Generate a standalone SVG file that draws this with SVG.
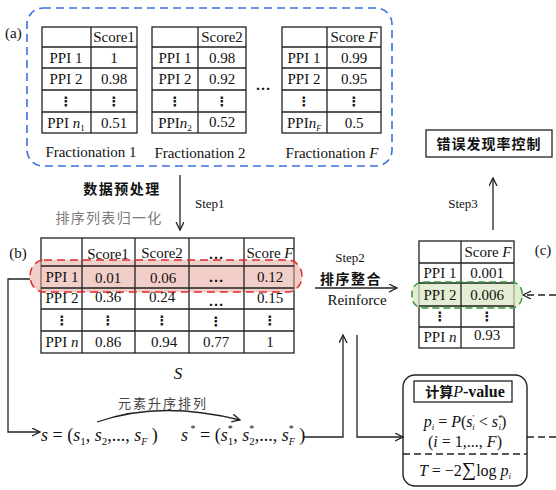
<svg xmlns="http://www.w3.org/2000/svg" width="556" height="490" viewBox="0 0 556 490">
<style>
.t{font-family:"Liberation Serif",serif;font-size:15px;text-anchor:middle;fill:#111}
.i{font-style:italic}
.g{stroke:#222;stroke-width:1.3;fill:none}
.cell{fill:#fff;stroke:#222;stroke-width:1.3}
.d{font-family:"DejaVu Sans",sans-serif;font-weight:bold;font-size:13px;text-anchor:middle;fill:#111}
.cn{font-family:"Noto Sans CJK SC",sans-serif;font-weight:bold;font-size:14px;fill:#111}
.c{stroke:#222;stroke-width:1.3;fill:none}
.s{font-family:"Liberation Serif",serif;font-size:13px;fill:#111}
</style>
<defs>
<marker id="ah" markerWidth="10" markerHeight="10" refX="8" refY="4" orient="auto" markerUnits="userSpaceOnUse">
<path d="M0,0 L8,4 L0,8" fill="none" stroke="#222" stroke-width="1.3"/>
</marker>
</defs>

<g id="group-a">
<rect x="27" y="8" width="365" height="158" rx="16" fill="none" stroke="#3a6fe0" stroke-width="1.6" stroke-dasharray="8,5"/>
<text class="t" x="5" y="38" style="text-anchor:start">(a)</text>
<text class="t" x="263" y="90" style="font-weight:bold">…</text>
</g>

<g id="table-1">
<rect class="cell" x="42" y="27" width="95" height="106"/>
<path class="g" d="M91,27V133M42,47H137M42,68H137M42,90H137M42,112H137"/>
<text class="t" x="114" y="42">Score1</text>
<text class="t" x="66" y="63">PPI 1</text><text class="t" x="114" y="63">1</text>
<text class="t" x="66" y="84">PPI 2</text><text class="t" x="114" y="84">0.98</text>
<text class="d" x="66" y="106">⋮</text><text class="d" x="114" y="106">⋮</text>
<text class="t" x="66" y="128">PPI <tspan class="i">n</tspan><tspan font-size="9" dy="3">1</tspan></text><text class="t" x="114" y="128">0.51</text>
<text class="t" x="91" y="157">Fractionation 1</text>
</g>

<g id="table-2">
<rect class="cell" x="152" y="27" width="94" height="106"/>
<path class="g" d="M198,27V133M152,47H246M152,68H246M152,90H246M152,112H246"/>
<text class="t" x="222" y="42">Score2</text>
<text class="t" x="175" y="63">PPI 1</text><text class="t" x="222" y="63">0.98</text>
<text class="t" x="175" y="84">PPI 2</text><text class="t" x="222" y="84">0.92</text>
<text class="d" x="175" y="106">⋮</text><text class="d" x="222" y="106">⋮</text>
<text class="t" x="175" y="128">PPI<tspan class="i">n</tspan><tspan font-size="9" dy="3">2</tspan></text><text class="t" x="222" y="127">0.52</text>
<text class="t" x="200" y="158">Fractionation 2</text>
</g>

<g id="table-3">
<rect class="cell" x="282" y="27" width="99" height="106"/>
<path class="g" d="M327,27V133M282,47H381M282,68H381M282,90H381M282,112H381"/>
<text class="t" x="354" y="42">Score <tspan class="i">F</tspan></text>
<text class="t" x="304" y="63">PPI 1</text><text class="t" x="354" y="63">0.99</text>
<text class="t" x="304" y="84">PPI 2</text><text class="t" x="354" y="84">0.95</text>
<text class="d" x="304" y="106">⋮</text><text class="d" x="354" y="106">⋮</text>
<text class="t" x="304" y="128">PPI<tspan class="i">n</tspan><tspan class="i" font-size="8" dy="3">F</tspan></text><text class="t" x="354" y="128">0.5</text>
<text class="t" x="332" y="158">Fractionation <tspan class="i">F</tspan></text>
</g>

<g id="fdr">
<rect x="426" y="130" width="126" height="27" fill="#fff" stroke="#222" stroke-width="1.3"/>
<text class="cn" x="489" y="149" text-anchor="middle" letter-spacing="1">错误发现率控制</text>
</g>

<g id="table-s">
<rect class="cell" x="41" y="238" width="253" height="115"/>
<rect x="30" y="260" width="272" height="32" rx="14" ry="16" fill="#e8a59d" fill-opacity="0.55" stroke="none"/>
<path class="g" d="M82,238V353M135,238V353M189,238V353M244,238V353M41,266H294M41,288H294M41,309H294M41,331H294"/>
<rect x="30" y="260" width="272" height="32" rx="14" ry="16" fill="none" stroke="#e02a2a" stroke-width="1.5" stroke-dasharray="8,5"/>
<text class="t" x="18" y="258">(b)</text>
<text class="t" x="108" y="259">Score1</text><text class="t" x="162" y="258">Score2</text><text class="t" x="216" y="259" style="font-weight:bold">…</text><text class="t" x="270" y="258">Score <tspan class="i">F</tspan></text>
<text class="t" x="62" y="282">PPI 1</text><text class="t" x="108" y="283">0.01</text><text class="t" x="163" y="283">0.06</text><text class="t" x="216" y="282" style="font-weight:bold">…</text><text class="t" x="270" y="282">0.12</text>
<text class="t" x="62" y="303">PPI 2</text><text class="t" x="108" y="302">0.36</text><text class="t" x="162" y="302">0.24</text><text class="t" x="216" y="306" style="font-weight:bold">…</text><text class="t" x="270" y="303">0.15</text>
<text class="d" x="62" y="325">⋮</text><text class="d" x="108" y="325">⋮</text><text class="d" x="162" y="325">⋮</text><text class="d" x="216" y="326">⋮</text><text class="d" x="270" y="325">⋮</text>
<text class="t" x="62" y="347">PPI <tspan class="i">n</tspan></text><text class="t" x="108" y="347">0.86</text><text class="t" x="164" y="347">0.94</text><text class="t" x="216" y="347">0.77</text><text class="t" x="270" y="347">1</text>
<text class="t i" x="178" y="379" style="font-size:17px">S</text>
</g>

<g id="table-c">
<rect class="cell" x="419" y="241" width="95" height="107"/>
<rect x="412" y="282" width="110" height="26" rx="11" fill="#d7e6c0" fill-opacity="0.7" stroke="none"/>
<path class="g" d="M461,241V348M419,263H514M419,283H514M419,306H514M419,327H514"/>
<rect x="412" y="282" width="110" height="26" rx="11" fill="none" stroke="#3a9a3a" stroke-width="1.5" stroke-dasharray="7,4"/>
<text class="t" x="488" y="257">Score <tspan class="i">F</tspan></text>
<text class="t" x="440" y="278">PPI 1</text><text class="t" x="487" y="278">0.001</text>
<text class="t" x="440" y="300">PPI 2</text><text class="t" x="487" y="300">0.006</text>
<text class="d" x="440" y="321">⋮</text><text class="d" x="487" y="321">⋮</text>
<text class="t" x="440" y="342">PPI <tspan class="i">n</tspan></text><text class="t" x="487" y="340">0.93</text>
<text class="t" x="543" y="255">(c)</text>
</g>

<g id="formula-s">
<text class="t" x="41" y="441" style="text-anchor:start;font-size:18px"><tspan class="i">s</tspan> = (<tspan class="i">s</tspan><tspan font-size="11" dy="4">1</tspan><tspan dy="-4">, </tspan><tspan class="i">s</tspan><tspan font-size="11" dy="4">2</tspan><tspan dy="-4">,..., </tspan><tspan class="i">s</tspan><tspan class="i" font-size="10" dy="4">F</tspan><tspan dy="-4"> )</tspan></text>
</g>

<g id="formula-s-star">
<text class="t" x="181" y="441" style="text-anchor:start;font-size:18px"><tspan class="i">s</tspan><tspan font-size="10" dy="-9"> *</tspan><tspan dy="9"> = (</tspan><tspan class="i">s</tspan><tspan font-size="10" dy="-9">*</tspan><tspan font-size="11" dx="-5" dy="13">1</tspan><tspan dy="-4">, </tspan><tspan class="i">s</tspan><tspan font-size="10" dy="-9">*</tspan><tspan font-size="11" dx="-5" dy="13">2</tspan><tspan dy="-4">,..., </tspan><tspan class="i">s</tspan><tspan font-size="10" dy="-9">*</tspan><tspan class="i" font-size="10" dx="-5" dy="13">F</tspan><tspan dy="-4"> )</tspan></text>
</g>

<g id="pvalue">
<rect x="403" y="375" width="124" height="111" rx="12" fill="#fff" stroke="#222" stroke-width="1.4"/>
<rect x="414" y="381" width="98" height="21" fill="#fff" stroke="#222" stroke-width="1.3"/>
<text class="t" x="465" y="397" style="font-weight:bold;font-size:16px"><tspan font-family="Noto Sans CJK SC" font-size="14">计算</tspan><tspan class="i" font-weight="normal">P</tspan>-value</text>
<text class="t" x="465" y="427" style="font-size:16px"><tspan class="i">p</tspan><tspan class="i" font-size="9" dy="3">i</tspan><tspan dy="-3"> = </tspan><tspan class="i">P</tspan>(<tspan class="i">s</tspan><tspan font-size="9" dy="-6">'</tspan><tspan class="i" font-size="9" dx="-2" dy="9">i</tspan><tspan dy="-3"> &lt; </tspan><tspan class="i">s</tspan><tspan font-size="9" dy="-6">*</tspan><tspan class="i" font-size="9" dx="-4" dy="9">i</tspan><tspan dy="-3">)</tspan></text>
<text class="t" x="465" y="447" style="font-size:16px">(<tspan class="i">i</tspan> = 1,..., <tspan class="i">F</tspan>)</text>
<path d="M403,454H527" stroke="#222" stroke-width="1.3" stroke-dasharray="7,4"/>
<text class="t" x="465" y="476" style="font-size:16px"><tspan class="i">T</tspan> = −2<tspan font-size="20">∑</tspan>log <tspan class="i">p</tspan><tspan class="i" font-size="9" dy="3">i</tspan></text>
</g>

<g id="labels">
<text class="cn" x="122" y="194" text-anchor="middle" letter-spacing="1.5">数据预处理</text>
<text class="cn" x="109" y="223" text-anchor="middle" letter-spacing="1.3" style="font-weight:normal;fill:#7a7a7a">排序列表归一化</text>
<text class="s" x="195" y="208">Step1</text>
<text class="s" x="350" y="262" text-anchor="middle">Step2</text>
<text class="cn" x="351" y="284" text-anchor="middle" letter-spacing="1.5">排序整合</text>
<text class="t" x="357" y="305">Reinforce</text>
<text class="s" x="463" y="208" text-anchor="middle">Step3</text>
<text class="cn" x="163" y="408" text-anchor="middle" letter-spacing="2" style="font-weight:normal;font-size:13px;fill:#444">元素升序排列</text>
</g>

<g id="connectors">
<path class="c" d="M180,175V230" marker-end="url(#ah)"/>
<path class="c" d="M493,230V178" marker-end="url(#ah)"/>
<path class="c" d="M315,288H397" marker-end="url(#ah)"/>
<path class="c" d="M30,279H8V432H40" marker-end="url(#ah)"/>
<path class="c" d="M303,437H343V335" marker-end="url(#ah)"/>
<path class="c" d="M357,335V437H403" marker-end="url(#ah)"/>
<path class="c" d="M97,422Q160,400 240,420" marker-end="url(#ah)"/>
<path class="c" d="M556,295H523" stroke-dasharray="7,4" marker-end="url(#ah)"/>
<path class="c" d="M527,437H556" stroke-dasharray="7,4"/>
</g>
</svg>
